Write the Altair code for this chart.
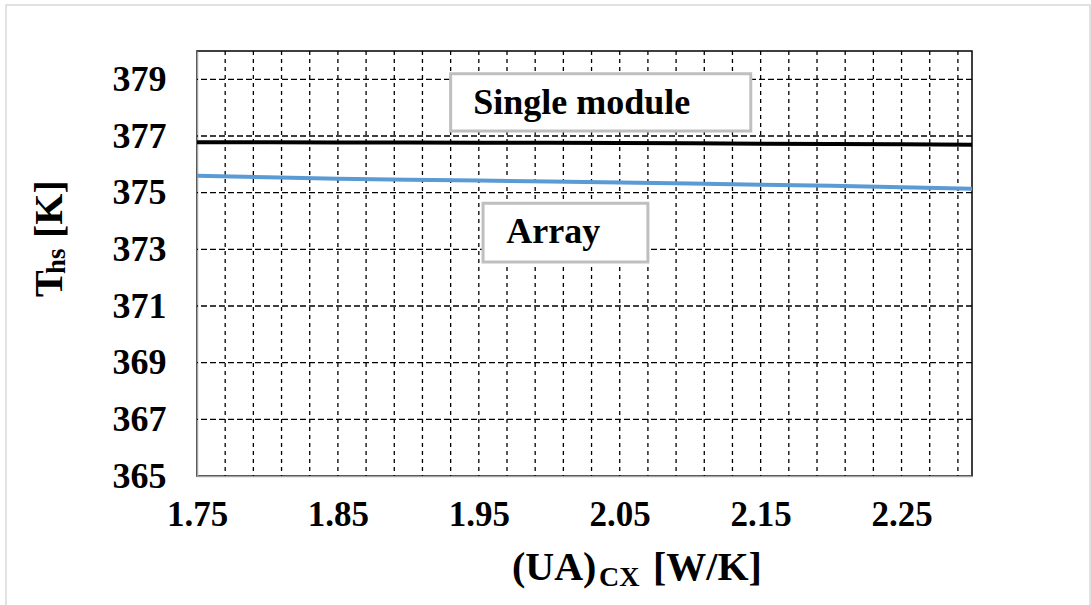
import altair as alt
import pandas as pd

# ---- data ----
ua_cx = [1.75, 1.80, 1.85, 1.90, 1.95, 2.00, 2.05, 2.10, 2.15, 2.20, 2.25, 2.30]
t_single = [376.78, 376.78, 376.77, 376.77, 376.76, 376.76, 376.75, 376.74, 376.73, 376.72, 376.71, 376.69]
t_array = [375.60, 375.54, 375.49, 375.46, 375.43, 375.39, 375.36, 375.32, 375.28, 375.24, 375.19, 375.14]

x_labels = [1.75, 1.85, 1.95, 2.05, 2.15, 2.25]
y_labels = [365, 367, 369, 371, 373, 375, 377, 379]
x_grid = [1.77, 1.79, 1.81, 1.83, 1.85, 1.87, 1.89, 1.91, 1.93, 1.95, 1.97, 1.99, 2.01, 2.03,
          2.05, 2.07, 2.09, 2.11, 2.13, 2.15, 2.17, 2.19, 2.21, 2.23, 2.25, 2.27, 2.29]
y_grid = [367, 369, 371, 373, 375, 377, 379]

# annotation boxes (data coordinates)
box_names = ["Single module", "Array"]
box_x1 = [1.930, 1.953]
box_x2 = [2.143, 2.070]
box_y1 = [379.20, 374.63]
box_y2 = [377.18, 372.55]
box_tx = [1.946, 1.9695]
box_ty = [378.17, 373.62]

FONT = "Liberation Serif"

df = pd.DataFrame({"x": ua_cx * 2,
                   "t": t_single + t_array,
                   "series": ["Single module"] * len(ua_cx) + ["Array"] * len(ua_cx)})
boxes = pd.DataFrame({"name": box_names, "x1": box_x1, "x2": box_x2,
                      "y1": box_y1, "y2": box_y2, "tx": box_tx, "ty": box_ty})

xs = alt.Scale(domain=[1.75, 2.30], nice=False, zero=False)
ys = alt.Scale(domain=[365, 380], nice=False, zero=False)

xaxis = alt.Axis(values=x_labels, format=".2f", title=None, grid=False, ticks=False,
                 labelFont=FONT, labelFontSize=35, labelFontWeight="bold", labelColor="black",
                 labelPadding=21, domainColor="#a6a6a6", domainWidth=1.5, labelFlush=False)
yaxis = alt.Axis(values=y_labels, title=None, grid=False, ticks=False,
                 labelFont=FONT, labelFontSize=36, labelFontWeight="bold", labelColor="black",
                 labelPadding=31, domainColor="#a6a6a6", domainWidth=1.5)

base_data = alt.Data(values=[{}])

frame = alt.Chart(base_data).mark_rect(fillOpacity=0, stroke="#d9d9d9", strokeWidth=1.5).encode(
    x=alt.value(-191), x2=alt.value(893), y=alt.value(-46), y2=alt.value(700))

vgrid = alt.Chart(pd.DataFrame({"g": x_grid})).mark_rule(
    color="black", strokeWidth=1.3, strokeDash=[4, 4]).encode(x=alt.X("g:Q", scale=xs, axis=xaxis))
hgrid = alt.Chart(pd.DataFrame({"g": y_grid})).mark_rule(
    color="black", strokeWidth=1.3, strokeDash=[6, 3]).encode(y=alt.Y("g:Q", scale=ys, axis=yaxis))

lines = alt.Chart(df).mark_line(strokeWidth=4).encode(
    x=alt.X("x:Q", scale=xs, axis=xaxis),
    y=alt.Y("t:Q", scale=ys, axis=yaxis),
    color=alt.Color("series:N", scale=alt.Scale(domain=["Single module", "Array"],
                                                range=["#000000", "#5b9bd5"]), legend=None),
    detail="series:N")

rects = alt.Chart(boxes).mark_rect(fill="white", stroke="#bfbfbf", strokeWidth=3).encode(
    x=alt.X("x1:Q", scale=xs), x2="x2:Q", y=alt.Y("y1:Q", scale=ys), y2="y2:Q")
rtext = alt.Chart(boxes).mark_text(font=FONT, fontSize=36, fontWeight="bold", align="left",
                                   baseline="middle", color="black").encode(
    x=alt.X("tx:Q", scale=xs), y=alt.Y("ty:Q", scale=ys), text="name:N")

def label(txt, px, py, size, angle=0, align="left", baseline="alphabetic"):
    return alt.Chart(base_data).mark_text(text=txt, font=FONT, fontSize=size, fontWeight="bold",
                                          color="black", align=align, baseline=baseline,
                                          angle=angle).encode(x=alt.value(px), y=alt.value(py))

# x title: (UA)_CX [W/K]
xt1 = label("(UA)", 315, 529, 40)
xt2 = label("CX", 402, 535, 28)
xt3 = label("[W/K]", 456, 529, 40)
# y title: T_hs [K] rotated
yt1 = label("T", -135, 246, 40, angle=270, align="left")
yt2 = label("hs", -132, 223, 27, angle=270, align="left")
yt3 = label("[K]", -135, 187, 40, angle=270, align="left")

chart = alt.layer(frame, vgrid, hgrid, lines, rects, rtext, xt1, xt2, xt3, yt1, yt2, yt3).properties(
    width=775, height=425,
    autosize=alt.AutoSizeParams(type="none"),
    padding={"left": 197, "top": 51, "right": 119, "bottom": 129},
    background="white",
).configure_view(stroke="black", strokeWidth=1.5)

chart.save("out.html", embed_options={"renderer": "svg", "actions": False})
